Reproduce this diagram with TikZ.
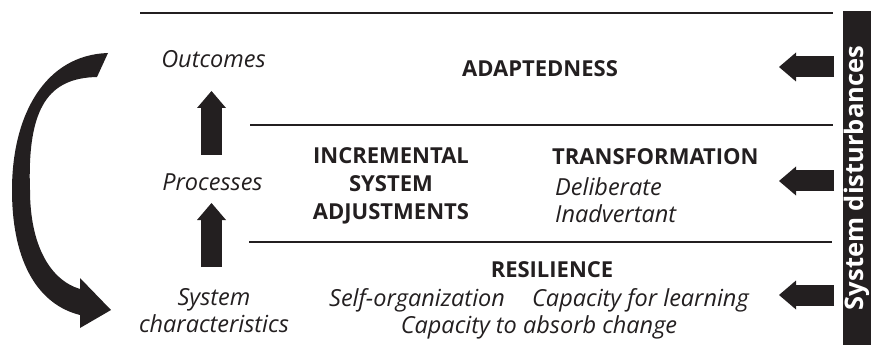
\documentclass[tikz,border=0pt]{standalone}
\usepackage{fontspec}
\setmainfont{Open Sans}
\usetikzlibrary{arrows.meta}
\definecolor{ink}{HTML}{231F20}
\tikzset{
  bold/.style={font=\fontsize{22}{28}\selectfont\bfseries, text=ink, inner sep=0pt},
  ital/.style={font=\fontsize{23.5}{27}\selectfont\itshape, text=ink, inner sep=0pt},
  rule/.style={ink, line width=1.4pt},
  blockarrow/.style={ink, line width=21pt, -{Triangle[width=29pt,length=17pt,line width=0pt]}},
}
\begin{document}
\begin{tikzpicture}[x=1pt,y=-1pt]
\useasboundingbox (0,0) rectangle (872,358);
% level rules
\draw[rule] (140,13) -- (833,13);
\draw[rule] (250,125) -- (833,125);
\draw[rule] (249,242) -- (832,242);
% left column
\node[ital, anchor=base] (outcomes) at (213.5,68) {Outcomes};
\node[ital, anchor=base] (processes) at (212.5,190) {Processes};
\node[ital, align=center] (syschar) at (214,311) {System\\characteristics};
\coordinate (up1s) at (211.5,155);
\coordinate (up1e) at (211.5,91);
\coordinate (up2s) at (211.5,267);
\coordinate (up2e) at (211.5,203);
\draw[blockarrow] (up1s) -- (up1e);
\draw[blockarrow] (up2s) -- (up2e);
% levels
\node[bold, anchor=base] (adapt) at (540,77) {ADAPTEDNESS};
\node[bold, align=center] (incr) at (391,186) {INCREMENTAL\\SYSTEM\\ADJUSTMENTS};
\node[bold, anchor=base west] (transf) at (552,165) {TRANSFORMATION};
\node[ital, align=left, anchor=west] (kinds) at (555,200.5) {Deliberate\\Inadvertant};
\node[bold, anchor=base] (resil) at (552,277) {RESILIENCE};
\node[ital, align=center] (capac) at (539,314) {Self-organization\hspace{0.9em} Capacity for learning\\Capacity to absorb change};
% disturbances
\node[fill=ink, text=white, rotate=90, minimum width=334pt, minimum height=28pt, inner sep=0pt,
  font=\fontsize{25.5}{26}\selectfont\bfseries] (disturb) at (857,178) {System disturbances\hspace{21pt}};
\foreach \y/\n in {67/a,181/b,295/c}{
  \coordinate (d\n s) at (834,\y);
  \coordinate (d\n e) at (779,\y);
  \draw[blockarrow] (d\n s) -- (d\n e);
}
% feedback arrow
\fill[ink] (108,53) .. controls (45,55) and (12,115) .. (12,190)
  .. controls (12,265) and (40,305) .. (80,315) -- (80,328) -- (111,310) -- (80,278) -- (80,289)
  .. controls (50,280) and (30,245) .. (30,190)
  .. controls (27,105) and (50,78) .. (97,77) -- cycle;
\end{tikzpicture}
\end{document}
